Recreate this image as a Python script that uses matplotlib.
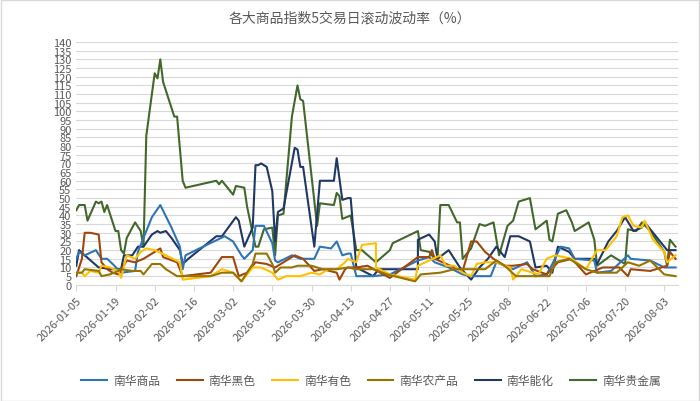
import matplotlib
matplotlib.use("Agg")
import matplotlib.pyplot as plt
import matplotlib.dates as mdates
import numpy as np
import datetime as dt

plt.rcParams['font.family'] = ['Noto Sans CJK SC', 'DejaVu Sans']

start = dt.date(2026, 1, 5)
names = ["南华商品", "南华黑色", "南华有色", "南华农产品", "南华能化", "南华贵金属"]
colors = ["#2E75B6", "#9E480E", "#FFC000", "#997300", "#203864", "#43682B"]

# day offsets since 2026-01-05 and values (%)
com_d = [0.4,1.4,3.2,7.9,9.3,11.4,13.9,16.8,21.1,22.9,25.4,27.5,30.7,34.6,37.1,38.9,39.6,44.3,53.9,56.1,59.6,60.7,63.2,64.6,67.5,70.4,71.4,72.9,77.5,80.7,85.4,87.1,91.8,93.6,95.4,97.9,
         98.9,100.7,106.1,112.1,122.1,126.4,128.9,133.6,138.9,141.4,148.9,150.7,156.1,161.1,164.6,168.2,170.4,173.9,176.4,178.2,185.4,186.4,191.8,197.9,198.9,205,210.4,214.6]
com_v = [15,19,17,20,15,15,12,7,8,19,31,39,46,33,22,9,17,21,28,25,17,15,20,34,34,24,14,13,17,15,15,22,21,25,17,18,
         18,5,5,6,14,16,13,10,6,5,5,13,9,13,5,6,12,22,21,15,14,7,8,17,15,14,10,10]

blk_d = [0.4,2.1,3.6,5,8.6,9.3,11.1,13.2,15,18.2,21.8,24.6,27.5,30.7,31.8,36.1,38.9,48.9,52.5,56.1,58.2,61.1,64.6,68.2,71.1,72.9,78.9,81.8,85.4,88.9,93.2,94.3,96.1,97.9,
         100.7,104.3,112.1,122.1,126.4,127.5,128.9,135.4,138.9,141.8,143.2,146.8,149.6,153.2,156.8,161.1,163.9,168.6,172.9,177.5,182.5,188.9,194.3,197.9,198.9,205,211.1,212.9,214.6]
blk_v = [5,15,30,30,29,13,9,7,6,14,13,15,18,21,16,13,5,7,16,16,5,7,13,12,10,11,17,15,8,9,7,3,9,10,
         10,11,4,16,16,20,15,10,8,25,25,19,15,11,11,12,9,6,13,15,6,10,10,5,9,8,11,19,15]

met_d = [0.4,2.1,3.9,5,8.6,9.6,12.1,15,16.8,18.6,21.8,23.6,25.4,28.9,32.5,37.1,38.2,48.9,52.1,56.1,59.3,63.2,66.8,70.4,72.1,75.4,80,84.6,87.1,90,93.2,96.1,97.9,
         100.7,102.1,107.5,107.9,112.1,121.8,122.9,126.4,130,132.5,135.4,138.2,141.4,143.2,146.8,150.4,155,156.1,159.3,165.7,168.2,171.8,177.5,182.5,186.4,189.6,193.2,195.4,197.9,199.6,202.1,203.9,206.1,210.4,211.4,214.6]
met_v = [7,7,5,8,7,11,10,8,4,17,15,19,21,20,17,13,3,5,9,7,2,10,10,7,3,5,5,7,6,9,9,13,15,
         13,23,24,10,6,3,11,14,17,11,11,7,5,12,13,13,10,3,9,6,15,17,15,9,20,20,28,39,40,34,33,37,26,19,13,17]

agr_d = [0.4,2.5,3.9,8.6,9.6,12.1,15,16.8,20.4,23.6,24.6,27.5,30,32.5,36.1,48.9,52.5,56.1,59.6,63.2,64.6,68.2,70.4,71.8,73.9,77.1,79.3,84.3,88.2,93.2,97.9,
         100.7,106.1,111.4,121.8,123.6,130,135.4,141.4,146.8,150.4,153.9,157.9,165.7,169.3,171.8,176.4,178.2,182.5,186.4,193.2,197.9,201.4,205.7,210.4,214.6]
agr_v = [7,7,9,8,5,6,8,9,8,8,6,12,12,9,5,5,7,7,2,12,18,18,12,7,10,10,11,11,9,9,10,
         9,9,6,2,6,7,9,9,9,14,11,5,5,5,13,15,13,9,7,7,13,11,14,6,5]

ene_d = [0.4,1.4,3.2,8.6,13.9,16.8,17.9,20.4,22.9,24.6,27.5,29.3,30.7,32.5,34.6,37.1,38.9,40.4,50.4,52.5,57.5,58.6,60.7,63.2,64.6,65.7,66.8,68.2,70.4,71.4,72.9,74.6,78.2,79.3,80.7,81.4,85.7,87.5,92.5,93.6,95.4,97.9,
         98.9,100.7,106.1,108.6,112.1,122.1,122.9,126.4,128.2,129.3,133.6,137.9,141.4,144.3,147.1,150.7,153.9,155.7,158.6,162.1,164.6,168.6,170,172.9,176.4,178.2,185.4,186.4,190.7,193.2,196.1,199.6,202.1,203.9,210.4,211.4,214.6]
ene_v = [11,20,17,10,9,9,17,17,22,22,29,31,30,31,27,20,12,15,28,28,39,37,22,33,69,69,70,68,54,25,42,44,79,78,68,68,22,60,60,73,49,50,
         50,10,5,9,9,9,26,29,25,15,20,10,3,10,15,22,16,28,28,25,10,11,7,22,19,15,15,12,25,31,39,31,33,36,22,20,20]

gold_d = [0.4,1.4,3.6,4.6,7.5,8.6,9.6,10.4,11.4,14.3,15.4,16.8,17.9,18.6,21.8,23.6,24.6,25.7,28.6,29.3,30.7,31.4,35.7,36.8,38.6,39.6,50.4,51.4,52.5,56.8,57.5,60.4,61.8,64.6,65.7,67.5,70.4,71.8,72.9,74.6,77.9,79.3,80.7,81.4,86.4,87.9,92.5,93.2,94.3,95.4,
          98.9,100.7,102.5,107.5,112.1,113.9,122.1,123.6,126.4,128.2,129.3,130.7,133.6,136.1,137.1,138.9,141.4,144.3,146.1,149.6,151.4,154.3,156.1,158.6,162.1,164.6,168.6,169.6,170.4,172.1,175.4,177.1,178.9,183.6,185.4,186.4,191.8,196.1,197.1,200,202.5,205,210.4,211.4,212.9,214.6]
gold_v = [43,46,46,37,48,47,48,42,46,31,31,20,18,27,36,31,22,86,122,119,130,117,97,97,60,56,60,58,60,52,57,56,45,22,22,32,33,17,40,41,97,115,107,106,34,47,46,53,51,38,
          40,20,20,13,20,24,31,20,19,15,15,46,46,36,36,15,21,35,34,36,17,34,37,48,50,32,37,26,25,41,43,36,31,36,26,11,17,12,32,31,36,31,19,11,26,22]

series = [(com_d, com_v), (blk_d, blk_v), (met_d, met_v), (agr_d, agr_v), (ene_d, ene_v), (gold_d, gold_v)]

fig = plt.figure(figsize=(7, 4.02), dpi=100)
ax = fig.add_axes([0.109, 0.289, 0.860, 0.604])
fig.patches.append(plt.Rectangle((0.001, 0.001), 0.998, 0.997, transform=fig.transFigure,
                                 fill=False, edgecolor="#D9D9D9", linewidth=1))

draw_order = [5, 4, 0, 1, 2, 3]
lines = {}
for i in draw_order:
    d, v = series[i]
    x = [start + dt.timedelta(days=float(t)) for t in d]
    lines[i], = ax.plot(x, v, color=colors[i], linewidth=1.5, label=names[i])

ax.set_ylim(0, 140)
ax.set_yticks(np.arange(0, 141, 5))
ax.set_xlim(start, start + dt.timedelta(days=215))
ticks = [start + dt.timedelta(days=14 * k) for k in range(16)]
ax.set_xticks(ticks)
ax.xaxis.set_major_formatter(mdates.DateFormatter("%Y-%m-%d"))
plt.setp(ax.get_xticklabels(), rotation=45, ha="right", rotation_mode="anchor")
ax.tick_params(axis="both", labelsize=8, colors="#595959", length=0)
ax.tick_params(axis="x", length=4, color="#D9D9D9", direction="out")
ax.grid(axis="y", color="#D9D9D9", linewidth=0.8)
for s in ["top", "right", "left"]:
    ax.spines[s].set_visible(False)
ax.spines["bottom"].set_color("#D9D9D9")
ax.set_axisbelow(True)

fig.text(0.5, 0.955, "各大商品指数5交易日滚动波动率（%）", ha="center", va="center",
         fontsize=10, color="#595959")
fig.legend([lines[i] for i in range(6)], names, loc="center", bbox_to_anchor=(0.53, 0.05),
           ncol=6, frameon=False, fontsize=8.5, handlelength=2.2, columnspacing=1.4,
           handletextpad=0.5, labelcolor="#595959")

fig.savefig("out.png", dpi=100)
